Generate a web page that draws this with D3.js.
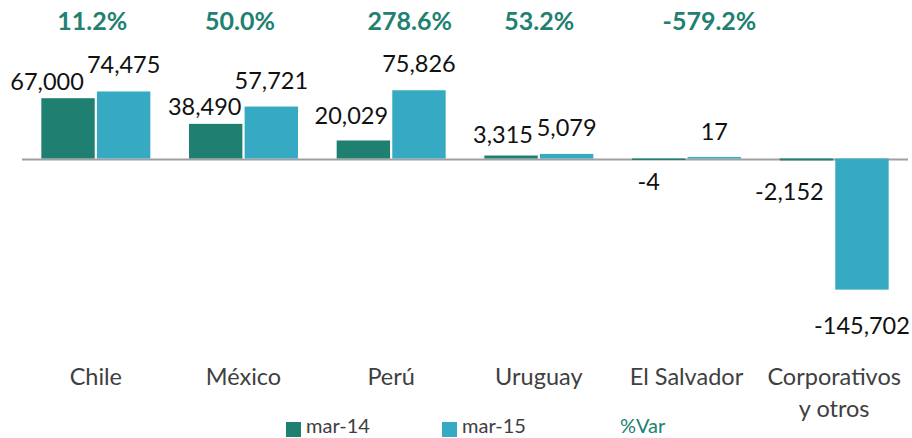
<!DOCTYPE html>
<html>
<head>
<meta charset="utf-8">
<script src="https://cdn.jsdelivr.net/npm/d3@7"></script>
<style>
  html, body { margin: 0; padding: 0; background: #fff; }
  svg { display: block; font-family: Lato, "Open Sans", sans-serif; }
</style>
</head>
<body>
<svg id="chart" width="912" height="438"></svg>
<script>
// ---- data ----
const categories = ["Chile", "México", "Perú", "Uruguay", "El Salvador", "Corporativos\ny otros"];
const seriesNames = ["mar-14", "mar-15"];
const mar14 = [67000, 38490, 20029, 3315, -4, -2152];
const mar15 = [74475, 57721, 75826, 5079, 17, -145702];
const pctVar = [11.2, 50.0, 278.6, 53.2, -579.2, null];
const legendLabels = ["mar-14", "mar-15", "%Var"];

// ---- layout tweaks (label nudges, as placed in the original) ----
const label14Dx = [-21, -11, -12, -8, -10, -17];
const label14Dy = [-8, -9, -16, -13, 31, 40];
const pctDx = [-3.5, -3.5, 18.5, 0.5, 23, 0];

const colors = { "mar-14": "#1f7f70", "mar-15": "#36a9c3", "%Var": "#218070" };

const svg = d3.select("#chart");

const x = d3.scaleBand().domain(categories).range([22, 908]).padding(0);
const x1 = d3.scaleBand().domain(seriesNames).range([-54.5, 54.5]).paddingInner(0.04);
const y = d3.scaleLinear().domain([-160000, 80000]).range([302.5, 86.5]);

const locale = d3.formatLocale({ decimal: ".", thousands: ",", grouping: [3], currency: ["", ""], minus: "-" });
const fmt = locale.format(",");
const cx = c => x(c) + x.bandwidth() / 2;

// zero baseline
svg.append("line")
  .attr("x1", x.range()[0]).attr("x2", x.range()[1])
  .attr("y1", y(0) + 1).attr("y2", y(0) + 1)
  .attr("stroke", "#a0a0a0").attr("stroke-width", 2);

const rows = categories.map((c, i) => ({ c, i, vals: [mar14[i], mar15[i]] }));

// bars
const g = svg.append("g");
rows.forEach(r => {
  seriesNames.forEach((s, k) => {
    const v = r.vals[k];
    const y0 = y(0), yv = y(v);
    let top = Math.min(y0, yv), h = Math.abs(yv - y0);
    if (h < 1.5) { h = 1.5; top = v >= 0 ? y0 - 1.5 : y0; }
    g.append("rect")
      .attr("x", cx(r.c) + x1(s))
      .attr("y", top)
      .attr("width", x1.bandwidth())
      .attr("height", h)
      .attr("fill", colors[s]);
  });
});

// value labels
const lab = svg.append("g").attr("font-size", 23.5).attr("fill", "#111").attr("text-anchor", "middle");
rows.forEach(r => {
  const v14 = r.vals[0];
  lab.append("text")
    .attr("x", cx(r.c) + x1("mar-14") + x1.bandwidth() / 2 + label14Dx[r.i])
    .attr("y", y(v14) + label14Dy[r.i])
    .text(fmt(v14));
  const v15 = r.vals[1];
  lab.append("text")
    .attr("x", cx(r.c) + x1("mar-15") + x1.bandwidth() / 2)
    .attr("y", v15 >= 0 ? y(v15) - 18 : y(v15) + 44)
    .text(fmt(v15));
});

// %Var labels
const pg = svg.append("g").attr("font-size", 25).attr("font-weight", 700)
  .attr("fill", colors["%Var"]).attr("text-anchor", "middle");
rows.forEach(r => {
  const p = pctVar[r.i];
  if (p === null) return;
  pg.append("text")
    .attr("x", cx(r.c) + pctDx[r.i])
    .attr("y", 30)
    .text(p.toFixed(1) + "%");
});

// category axis labels
const ag = svg.append("g").attr("font-size", 23.5).attr("fill", "#404040").attr("text-anchor", "middle");
categories.forEach(c => {
  const lines = c.split("\n");
  const t = ag.append("text").attr("x", cx(c)).attr("y", 385);
  lines.forEach((ln, j) => {
    t.append("tspan").attr("x", cx(c)).attr("dy", j === 0 ? 0 : 31.5).text(ln);
  });
});

// legend
const lg = svg.append("g").attr("font-size", 20).attr("fill", "#404040");
const legendX = [286, 442, 620];
legendLabels.forEach((name, i) => {
  if (name !== "%Var") {
    lg.append("rect").attr("x", legendX[i]).attr("y", 422).attr("width", 15).attr("height", 15)
      .attr("fill", colors[name]);
    lg.append("text").attr("x", legendX[i] + 20).attr("y", 433).text(name);
  } else {
    lg.append("text").attr("x", legendX[i]).attr("y", 433).attr("fill", colors["%Var"]).text(name);
  }
});
</script>
</body>
</html>
